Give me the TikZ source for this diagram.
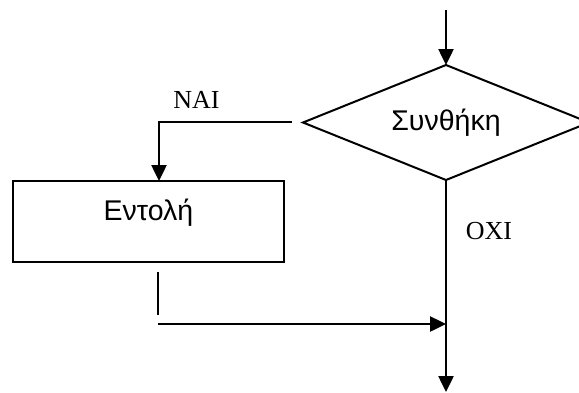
\documentclass[tikz,border=0pt]{standalone}
\usepackage{fontspec}
\setmainfont{Liberation Serif}
\newfontfamily\grsans{Liberation Sans}
\usetikzlibrary{shapes.geometric,arrows.meta,calc}
\begin{document}
\begin{tikzpicture}[x=1pt,y=-1pt,
  shapeline/.style={draw=black,line width=2pt},
  conn/.style={draw=black,line width=2.5pt},
  arr/.style={conn,-{Triangle[length=16pt,width=15pt]}},
  greek/.style={font=\grsans\fontsize{28.5}{32}\selectfont},
  latin/.style={font=\fontsize{26}{29}\selectfont,inner sep=0pt}]
\useasboundingbox (0,0) rectangle (579,392);
\node[shapeline,diamond,shape aspect=2.5,minimum width=286pt,minimum height=115pt,inner sep=0pt,outer sep=0pt,greek] (cond) at (446,122.5) {Συνθήκη};
\node[shapeline,rectangle,minimum width=271pt,minimum height=81pt,inner sep=0pt,outer sep=0pt,greek,text height=21pt,text depth=24pt] (box) at (148.5,221.5) {Εντολή};
\coordinate (top) at (446,10);
\coordinate (n1) at (292,122);
\coordinate (n2) at (159,122);
\coordinate (c1) at (158,272);
\coordinate (c2) at (158,315);
\coordinate (c3) at (158,324);
\coordinate (bot) at (446,392);
\node[latin,anchor=base] (nai) at (196.5,108) {NAI};
\node[latin,anchor=base] (oxi) at (489,239) {OXI};
\draw[arr] (top) -- (cond.north);
\draw[arr] (n1) -- (n2) -- (n2 |- box.north);
\draw[conn,line width=2pt] (c1) -- (c2);
\draw[arr] (c3) -- (c3 -| cond.south);
\draw[arr] (cond.south) -- (bot);
\end{tikzpicture}
\end{document}
